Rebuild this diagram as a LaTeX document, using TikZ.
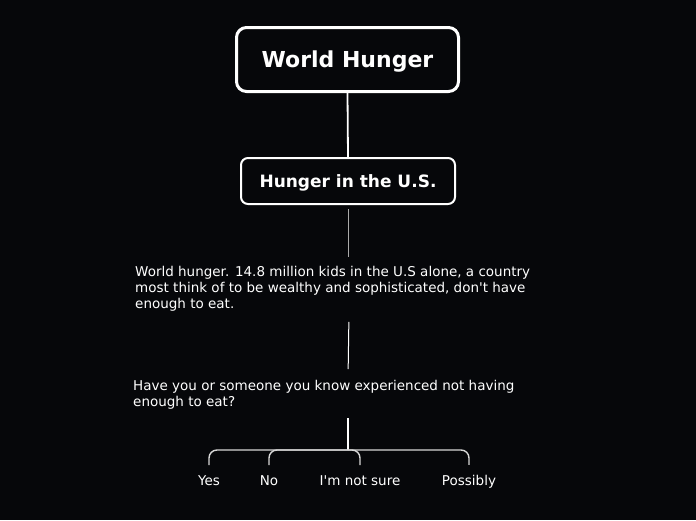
\documentclass[tikz,border=0pt]{standalone}
\usepackage{fontspec}
\setmainfont{DejaVu Sans}
\definecolor{bgdark}{RGB}{6,7,10}
\definecolor{stemgray}{RGB}{170,170,170}
\definecolor{forkgray}{RGB}{215,215,215}
\begin{document}
\begin{tikzpicture}[x=1pt,y=-1pt,
    topic/.style={draw=white,line width=3pt,rounded corners=10pt,text=white,minimum width=222pt,minimum height=64pt,text depth=0pt,font=\bfseries\fontsize{22}{26}\selectfont},
    subtopic/.style={draw=white,line width=2pt,rounded corners=7pt,text=white,minimum width=214pt,minimum height=46pt,text depth=0pt,font=\bfseries\fontsize{17}{20}\selectfont},
    note/.style={text=white,align=left,anchor=north west,inner sep=0pt,font=\fontsize{13.5}{16}\selectfont},
    answer/.style={text=white,anchor=base,inner sep=0pt,font=\fontsize{13.5}{16}\selectfont},
    link/.style={draw=white,line width=1.8pt},
    branch/.style={draw=forkgray,line width=1.4pt,rounded corners=8pt,shorten >=10.5pt}]
            \useasboundingbox[fill=bgdark] (0,0) rectangle (696,520);

            \node[topic] at (347.5,59.5) (world) {World Hunger};
            \node[subtopic] at (348,181) (us) {Hunger in the U.S.};

            \node[note] at (135,266.5) (fact) {World hunger. 14.8 million kids in the U.S alone, a country\\most think of to be wealthy and sophisticated, don\textquotesingle t have\\enough to eat.};
            \node[note] at (133,380) (question) {Have you or someone you know experienced not having\\enough to eat?};

            \coordinate (fork) at (348,450);

            \node[answer] at (209,485.7) (yes) {Yes};
            \node[answer] at (269,485.7) (no) {No};
            \node[answer] at (360,485.7) (unsure) {I\textquotesingle m not sure};
            \node[answer] at (469,485.7) (maybe) {Possibly};

            \draw[link] (world.south) -- (us.north);
            \draw[draw=stemgray,line width=1pt,shorten <=4pt,shorten >=9.5pt] (us.south) -- (us.south |- fact.north);
            \draw[draw=white,line width=1pt,shorten <=10pt,shorten >=11pt] ([xshift=1pt]fact.south -| us.south) -- (question.north -| fork);
            \draw[link,shorten <=9pt] (question.south -| fork) -- (fork);

            \draw[branch] (fork) -| (yes.north);
            \draw[branch] (fork) -| (no.north);
            \draw[branch] (fork) -| (unsure.north);
            \draw[branch] (fork) -| (maybe.north);
        \end{tikzpicture}
\end{document}
